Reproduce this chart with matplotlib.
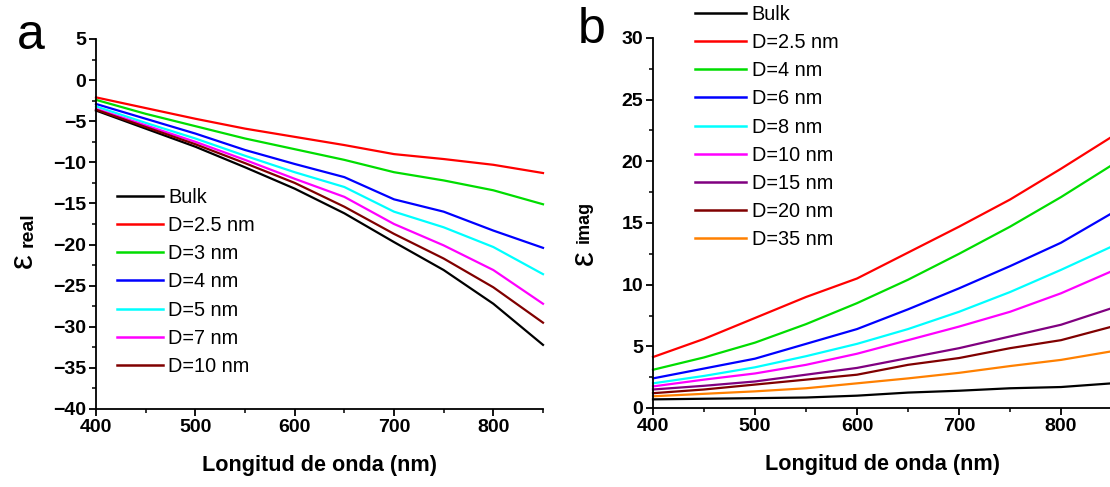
import matplotlib
matplotlib.use("Agg")
import matplotlib.pyplot as plt
from matplotlib.ticker import MultipleLocator

plt.rcParams['font.family'] = ['Liberation Sans', 'DejaVu Sans']

# ---------------- data ----------------
wl = [400, 450, 500, 550, 600, 650, 700, 750, 800, 850]

# panel a: real part
real_labels = ["Bulk", "D=2.5 nm", "D=3 nm", "D=4 nm", "D=5 nm", "D=7 nm", "D=10 nm"]
real_colors = ["#000000", "#ff0000", "#00dd00", "#0000ff", "#00ffff", "#ff00ff", "#800000"]
real_bulk = [-3.7, -5.9, -8.1, -10.6, -13.2, -16.2, -19.7, -23.1, -27.2, -32.2]
real_d25 = [-2.1, -3.4, -4.7, -5.9, -6.9, -7.9, -9.0, -9.6, -10.3, -11.3]
real_d3 = [-2.4, -4.1, -5.6, -7.1, -8.4, -9.7, -11.2, -12.2, -13.4, -15.1]
real_d4 = [-2.9, -4.7, -6.5, -8.5, -10.2, -11.8, -14.5, -16.0, -18.3, -20.4]
real_d5 = [-3.2, -5.2, -7.1, -9.2, -11.2, -13.0, -16.0, -17.9, -20.3, -23.6]
real_d7 = [-3.5, -5.5, -7.5, -9.7, -12.0, -14.2, -17.5, -20.1, -23.1, -27.2]
real_d10 = [-3.6, -5.7, -7.8, -10.1, -12.5, -15.4, -18.7, -21.7, -25.2, -29.5]
real_series = [real_bulk, real_d25, real_d3, real_d4, real_d5, real_d7, real_d10]

# panel b: imaginary part
imag_labels = ["Bulk", "D=2.5 nm", "D=4 nm", "D=6 nm", "D=8 nm", "D=10 nm",
               "D=15 nm", "D=20 nm", "D=35 nm"]
imag_colors = ["#000000", "#ff0000", "#00dd00", "#0000ff", "#00ffff", "#ff00ff",
               "#800080", "#800000", "#ff8000"]
imag_bulk = [0.7, 0.75, 0.8, 0.85, 1.0, 1.25, 1.4, 1.6, 1.7, 2.0]
imag_d25 = [4.13, 5.6, 7.3, 9.0, 10.5, 12.6, 14.7, 16.9, 19.4, 22.0]
imag_d4 = [3.1, 4.1, 5.3, 6.8, 8.5, 10.4, 12.5, 14.7, 17.1, 19.7]
imag_d6 = [2.4, 3.2, 4.0, 5.2, 6.4, 8.0, 9.7, 11.5, 13.4, 15.8]
imag_d8 = [2.0, 2.6, 3.3, 4.2, 5.2, 6.4, 7.8, 9.4, 11.2, 13.1]
imag_d10 = [1.75, 2.3, 2.8, 3.5, 4.4, 5.5, 6.6, 7.8, 9.3, 11.1]
imag_d15 = [1.5, 1.8, 2.15, 2.7, 3.25, 4.05, 4.85, 5.8, 6.75, 8.1]
imag_d20 = [1.2, 1.5, 1.9, 2.3, 2.7, 3.5, 4.05, 4.85, 5.5, 6.6]
imag_d35 = [0.95, 1.15, 1.35, 1.6, 2.0, 2.4, 2.85, 3.4, 3.9, 4.6]
imag_series = [imag_bulk, imag_d25, imag_d4, imag_d6, imag_d8, imag_d10,
               imag_d15, imag_d20, imag_d35]

x_ticks = [400, 500, 600, 700, 800]

# ---------------- figure ----------------
W, H = 1110, 487
fig = plt.figure(figsize=(W / 100, H / 100), dpi=100)

def px_axes(x0, y0, x1, y1):
    return fig.add_axes([x0 / W, 1 - y1 / H, (x1 - x0) / W, (y1 - y0) / H])

def fx(x):
    return x / W

def fy(y):
    return 1 - y / H

axa = px_axes(96, 39, 543, 409)
axb = px_axes(653, 38, 1112, 408)

tick_fs = 14
for ax in (axa, axb):
    ax.spines['top'].set_visible(False)
    ax.spines['right'].set_visible(False)
    for s in ('left', 'bottom'):
        ax.spines[s].set_linewidth(1.3)
    ax.tick_params(which='major', direction='out', length=5, width=1.3,
                   labelsize=tick_fs, pad=2)
    ax.tick_params(which='minor', direction='out', length=3, width=1.1)
    ax.set_xlim(400, 850)
    ax.set_xticks(x_ticks)
    ax.xaxis.set_minor_locator(MultipleLocator(50))
    ax.yaxis.set_minor_locator(MultipleLocator(2.5))
    ax.set_xlabel("Longitud de onda (nm)", fontsize=15.6, fontweight='bold', labelpad=14)

# panel a
for ys, c, lab in zip(real_series, real_colors, real_labels):
    axa.plot(wl, ys, color=c, lw=1.6, label=lab, clip_on=False)
axa.set_ylim(-40, 5)
axa.set_yticks(range(-40, 6, 5))

# panel b
for ys, c, lab in zip(imag_series, imag_colors, imag_labels):
    axb.plot(wl, ys, color=c, lw=1.6, label=lab, clip_on=False)
axb.set_ylim(0, 30)
axb.set_yticks(range(0, 31, 5))

for ax in (axa, axb):
    for lab in ax.get_xticklabels() + ax.get_yticklabels():
        lab.set_fontweight('bold')

# y labels (epsilon + smaller bold text)
fig.text(fx(23), fy(261), "ε", fontsize=24, rotation=90, ha='center', va='center')
fig.text(fx(28), fy(230), "real", fontsize=14, fontweight='bold', rotation=90,
         ha='center', va='center')
fig.text(fx(584), fy(258), "ε", fontsize=24, rotation=90, ha='center', va='center')
fig.text(fx(584), fy(222), "imag", fontsize=13, fontweight='bold', rotation=90,
         ha='center', va='center')

leg_fs = 14.3
la = axa.legend(loc='upper left', bbox_to_anchor=(fx(117), fy(188)),
                bbox_transform=fig.transFigure, frameon=False, fontsize=leg_fs,
                handlelength=2.32, handletextpad=0.26, labelspacing=0.46,
                borderpad=0, borderaxespad=0)
lb = axb.legend(loc='upper left', bbox_to_anchor=(fx(695), fy(5)),
                bbox_transform=fig.transFigure, frameon=False, fontsize=leg_fs,
                handlelength=2.56, handletextpad=0.3, labelspacing=0.46,
                borderpad=0, borderaxespad=0)
for lg in (la, lb):
    for ln in lg.get_lines():
        ln.set_linewidth(1.8)

fig.text(fx(17), fy(36), "a", fontsize=36, ha='left', va='center')
fig.text(fx(578), fy(30), "b", fontsize=36, ha='left', va='center')

fig.savefig("out.png", dpi=100)
